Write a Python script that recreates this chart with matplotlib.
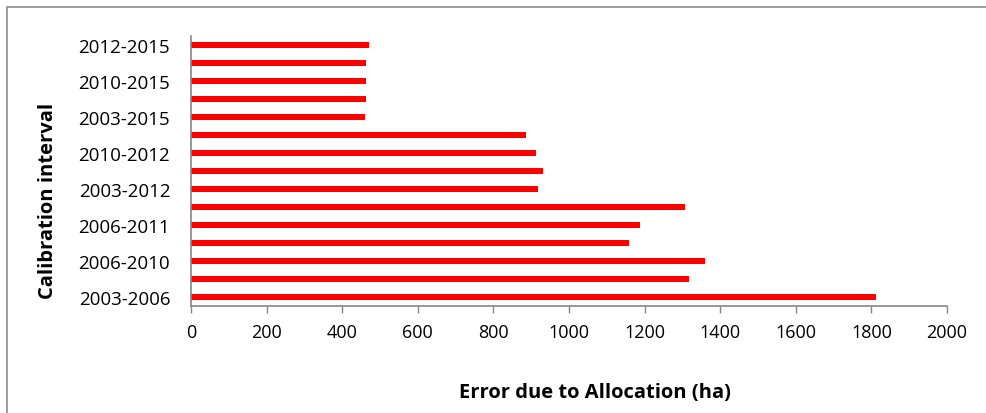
import numpy as np
import matplotlib.pyplot as plt
from matplotlib.patches import Rectangle

# calibration intervals, bottom to top
intervals = ['2003-2006', '2003-2010', '2006-2010', '2003-2011', '2006-2011',
             '2010-2011', '2003-2012', '2006-2012', '2010-2012', '2011-2012',
             '2003-2015', '2006-2015', '2010-2015', '2011-2015', '2012-2015']
errors = [1811, 1317, 1361, 1160, 1188,
          1308, 917, 930, 914, 885,
          460, 462, 464, 464, 470]
x_ticks = [0, 200, 400, 600, 800, 1000, 1200, 1400, 1600, 1800, 2000]


def main():
    plt.rcParams['font.family'] = ['Open Sans', 'DejaVu Sans']
    fig = plt.figure(figsize=(9.87, 4.14), dpi=100)
    ax = fig.add_axes([0.1935, 0.2585, 0.766, 0.652])

    y = np.arange(len(intervals))
    ax.barh(y, errors, height=0.3, color='#FF0000')

    ax.set_xlim(0, 2000)
    ax.set_ylim(-0.5, len(intervals) - 0.5)
    ax.set_xticks(x_ticks)
    ax.set_xticklabels([str(t) for t in x_ticks], fontsize=13)
    ax.set_yticks(y[::2])
    ax.set_yticklabels(intervals[::2], fontsize=13.5)

    for side in ['top', 'right']:
        ax.spines[side].set_visible(False)
    for side in ['left', 'bottom']:
        ax.spines[side].set_color('#868686')
        ax.spines[side].set_linewidth(1.2)
    ax.tick_params(axis='x', colors='#868686', length=5, width=1, labelcolor='black', pad=7)
    ax.tick_params(axis='y', length=0, labelcolor='black', pad=15)

    ax.set_xlabel('Error due to Allocation (ha)', fontsize=14.5, fontweight='bold')
    ax.xaxis.set_label_coords(0.534, -0.318)
    ax.xaxis.label.set_va('center')
    ax.set_ylabel('Calibration interval', fontsize=14.5, fontweight='bold')
    ax.yaxis.set_label_coords(-0.189, 0.393)
    ax.yaxis.label.set_va('center')

    # chart area border like the spreadsheet frame
    fig.patches.append(Rectangle((7 / 987, -0.1), 1.2, 1.1 - 8 / 414,
                                 transform=fig.transFigure, fill=False,
                                 edgecolor='#8c8c8c', linewidth=1.2))

    fig.savefig('out.png', dpi=100)


if __name__ == "__main__":
    main()
